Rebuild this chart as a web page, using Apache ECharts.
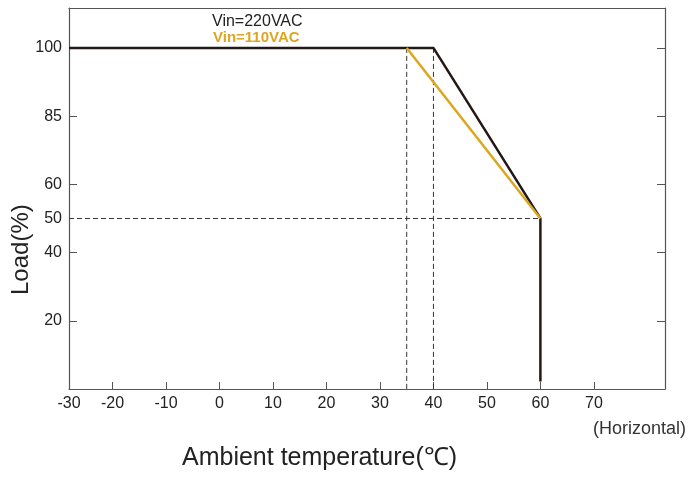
<!DOCTYPE html>
<html>
<head>
<meta charset="utf-8">
<script src="https://cdn.jsdelivr.net/npm/echarts@6/dist/echarts.min.js"></script>
<style>html,body{margin:0;padding:0;background:#fff}#c{width:691px;height:482px}</style>
</head>
<body>
<div id="c"></div>
<script>
// Data
const vin220 = [[-28.15, 100], [40, 100], [60, 50], [60, 2.2]];
const vin110 = [[35, 100], [60, 50]];
const guide35 = [[35, 100], [35, 0]];
const guide40 = [[40, 100], [40, 0]];
const guide50 = [[-28.15, 50], [60, 50]];
const xTickValues = [-20, -10, 0, 10, 20, 30, 40, 50, 60, 70];
const xLabelValues = [-28.15, -20, -10, 0, 10, 20, 30, 40, 50, 60, 70];
const xLabelTexts = ['-30', '-20', '-10', '0', '10', '20', '30', '40', '50', '60', '70'];
const yTickValues = [20, 40, 60, 80, 100];
const yLabelValues = [20, 40, 50, 60, 80, 100];
const yLabelTexts = ['20', '40', '50', '60', '85', '100'];
const legendNames = ['Vin=220VAC', 'Vin=110VAC'];

const FONT = '"Liberation Sans", Arial, sans-serif';
const chart = echarts.init(document.getElementById('c'), null, {renderer: 'canvas'});
const dashStyle = {color: '#333', width: 1, type: [5, 3]};
const axisLineStyle = {color: '#555', width: 1.2};
chart.setOption({
  animation: false,
  grid: {left: 69, right: 26, top: 8, bottom: 93, show: false},
  xAxis: [{
    type: 'value', min: -28.15, max: 83.3, position: 'bottom',
    axisLine: {show: true, lineStyle: axisLineStyle, onZero: false},
    axisTick: {show: true, inside: true, length: 7, lineStyle: {color: '#555'}, customValues: xTickValues},
    axisLabel: {color: '#222', fontSize: 16, fontFamily: FONT, margin: 7, customValues: xLabelValues,
      formatter: v => { const i = xLabelValues.findIndex(x => Math.abs(x - v) < 0.01); return i >= 0 ? xLabelTexts[i] : ''; }},
    splitLine: {show: false}
  }, {
    type: 'value', min: -28.15, max: 83.3, position: 'top',
    axisLine: {show: true, lineStyle: axisLineStyle, onZero: false},
    axisTick: {show: false}, axisLabel: {show: false}, splitLine: {show: false}
  }],
  yAxis: [{
    type: 'value', min: 0, max: 111.7, position: 'left',
    axisLine: {show: true, lineStyle: axisLineStyle, onZero: false},
    axisTick: {show: true, inside: true, length: 8, lineStyle: {color: '#555'}, customValues: yTickValues},
    axisLabel: {color: '#222', fontSize: 16, fontFamily: FONT, margin: 7, customValues: yLabelValues,
      formatter: v => { const i = yLabelValues.findIndex(x => Math.abs(x - v) < 0.01); return i >= 0 ? yLabelTexts[i] : ''; }},
    splitLine: {show: false}
  }, {
    type: 'value', min: 0, max: 111.7, position: 'right',
    axisLine: {show: true, lineStyle: axisLineStyle, onZero: false},
    axisTick: {show: true, inside: true, length: 8, lineStyle: {color: '#555'}, customValues: yTickValues},
    axisLabel: {show: false}, splitLine: {show: false}
  }],
  series: [
    {type: 'line', data: guide35, symbol: 'none', lineStyle: dashStyle, z: 1},
    {type: 'line', data: guide40, symbol: 'none', lineStyle: dashStyle, z: 1},
    {type: 'line', data: guide50, symbol: 'none', lineStyle: dashStyle, z: 1},
    {name: legendNames[0], type: 'line', data: vin220, symbol: 'none', lineStyle: {color: '#231815', width: 2.5}, z: 3},
    {name: legendNames[1], type: 'line', data: vin110, symbol: 'none', lineStyle: {color: '#DDA620', width: 2.5}, z: 4}
  ],
  graphic: [
    {type: 'text', left: 212, top: 14, style: {text: legendNames[0], fill: '#222', font: '16px ' + FONT}},
    {type: 'text', left: 213, top: 30, style: {text: legendNames[1], fill: '#DDA620', font: 'bold 15px ' + FONT}},
    {type: 'text', left: 593, top: 420, style: {text: '(Horizontal)', fill: '#333', font: '18px ' + FONT}},
    {type: 'text', left: 182, top: 446, style: {text: 'Ambient temperature(℃)', fill: '#222', font: '25px ' + FONT}},
    {type: 'text', x: 9, y: 295, rotation: Math.PI / 2, style: {text: 'Load(%)', fill: '#222', font: '24px ' + FONT}}
  ]
});
</script>
</body>
</html>
